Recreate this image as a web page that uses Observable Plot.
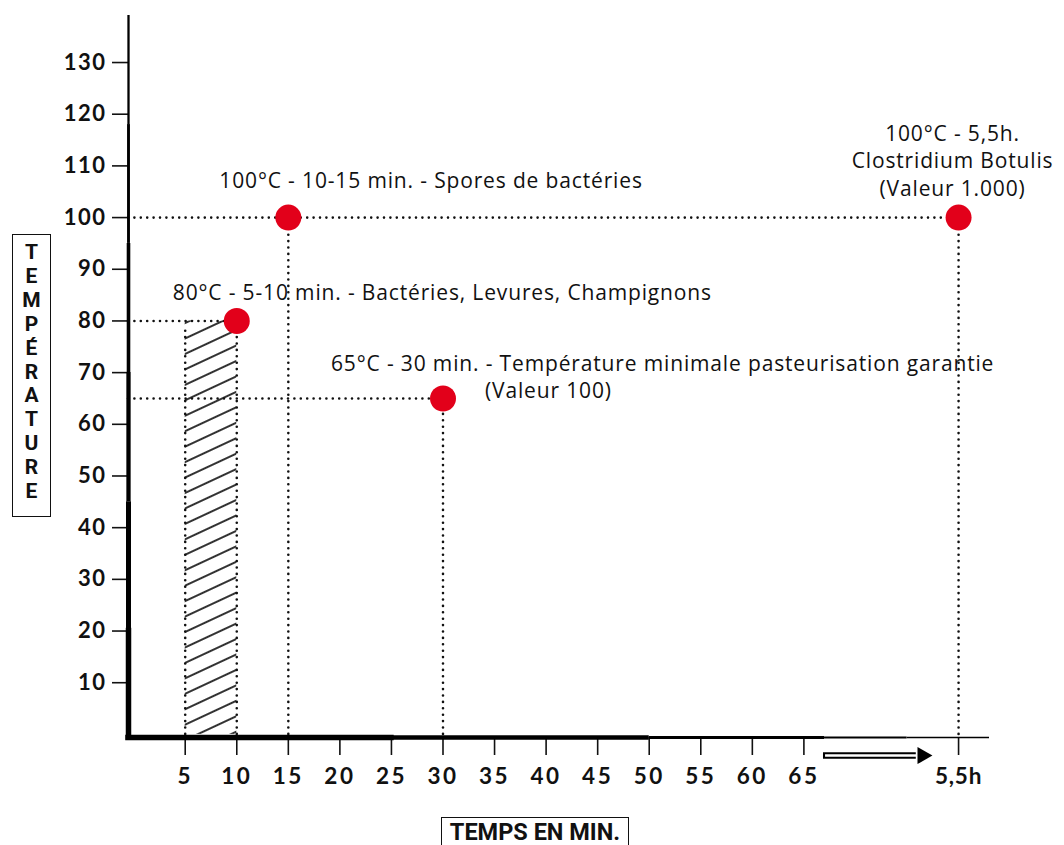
<!DOCTYPE html>
<html>
<head>
<meta charset="utf-8">
<script src="https://cdn.jsdelivr.net/npm/d3@7"></script>
<script src="https://cdn.jsdelivr.net/npm/@observablehq/plot@0.6"></script>
<style>
  html, body { margin: 0; padding: 0; background: #fff; overflow: hidden; }
  #wrap { position: relative; width: 1064px; height: 845px; }
  #ylab {
    position: absolute; left: 12px; top: 234px; width: 37px; height: 275px;
    border: 1.5px solid #111; box-sizing: content-box;
    display: flex; flex-direction: column; align-items: center;
    padding-top: 6px;
    font-family: Roboto, sans-serif; font-weight: 700; font-size: 21px; line-height: 23.9px; color: #111;
  }
  #xlab {
    position: absolute; left: 441px; top: 817px; width: 188px; height: 40px;
    border: 1.5px solid #111; box-sizing: border-box;
    font-family: Roboto, sans-serif; font-weight: 700; font-size: 23.5px; line-height: 28px; color: #111;
    text-align: center;
  }
  g[aria-label="x-axis tick label"] text { letter-spacing: 2.5px; }
  g[aria-label="x-axis tick label"] text:last-child { letter-spacing: 0.8px; }
  g[aria-label="y-axis tick label"] text { letter-spacing: 1.5px; }
  g[aria-label="text"] text { letter-spacing: 0.85px; }
</style>
</head>
<body>
<div id="wrap">
  <div id="chart"></div>
  <div id="ylab"></div>
  <div id="xlab"></div>
</div>
<script>
// ---- data ----
const yAxisTitle = "TEMPÉRATURE";
const xAxisTitle = "TEMPS EN MIN.";

const xTicks = [5, 10, 15, 20, 25, 30, 35, 40, 45, 50, 55, 60, 65, 80];
const xTickLabels = ["5", "10", "15", "20", "25", "30", "35", "40", "45", "50", "55", "60", "65", "5,5h"];
const yTicks = [10, 20, 30, 40, 50, 60, 70, 80, 90, 100, 110, 120, 130];

// points: time (minutes, 5,5h placed at the "80" slot) and temperature
const pointTime = [15, 10, 30, 80];
const pointTemp = [100, 80, 65, 100];

// hatched zone: 5-10 min at up to 80°C
const hatchTime = [5, 10];
const hatchTemp = [0, 80];

const labelSpores = "100°C - 10-15 min. - Spores de bactéries";
const labelBacteries = "80°C - 5-10 min. - Bactéries, Levures, Champignons";
const labelPasteur = "65°C - 30 min. - Température minimale pasteurisation garantie";
const labelPasteurValue = "(Valeur 100)";
const labelBotulis = ["100°C - 5,5h.", "Clostridium Botulis", "(Valeur 1.000)"];

// arrow after 65 toward 5,5h
const arrowFrom = 66.9;
const arrowTo = 75.9;

// ---- build ----
const xMin = -0.5, xMax = 83;
const yMin = -0.6, yMax = 139.1;

const points = pointTime.map((t, i) => ({x: t, y: pointTemp[i]}));
const dotted = {stroke: "#111", strokeWidth: 2.6, strokeDasharray: "0 6.4", strokeLinecap: "round"};
const annFont = {fontFamily: "'Open Sans', sans-serif", fontSize: 21, fill: "#111"};

// tapered axis line styling (stroke widths along the axis)
const yAxisTaper = [[yMin, 20, 5.5], [20, 45, 5], [45, 70, 4.3], [70, 95, 3.6], [95, 118, 2.9], [118, yMax, 2.3]];
const xAxisTaper = [[xMin, 25, 5.5], [25, 50, 4.4], [50, 67, 3.2], [67, 75, 2.2], [75, xMax, 1.5]];

const plot = Plot.plot({
  width: 1064,
  height: 845,
  marginLeft: 128,
  marginRight: 75,
  marginTop: 15,
  marginBottom: 108,
  style: {fontFamily: "Lato, sans-serif", color: "#111", background: "#fff"},
  x: {domain: [xMin, xMax]},
  y: {domain: [yMin, yMax]},
  marks: [
    // hatched zone
    Plot.rect([{x1: hatchTime[0], x2: hatchTime[1], y1: hatchTemp[0], y2: hatchTemp[1]}],
      {x1: "x1", x2: "x2", y1: "y1", y2: "y2", fill: "url(#hatch)"}),
    // dotted guides
    Plot.ruleY(points.filter(d => d.x !== 15), {y: "y", x1: xMin, x2: "x", ...dotted}),
    Plot.ruleX(points, {x: "x", y1: 0, y2: "y", ...dotted}),
    Plot.ruleX([hatchTime[0]], {y1: hatchTemp[0], y2: hatchTemp[1] - 1.5, ...dotted}),
    // axes
    Plot.axisY({ticks: yTicks, tickSize: 16, tickPadding: 6, fontSize: 22, fontWeight: 700, strokeWidth: 1.6, label: null}),
    Plot.axisX({ticks: xTicks, tickFormat: d => xTickLabels[xTicks.indexOf(d)], tickSize: 18, tickPadding: 13,
      fontSize: 22.5, fontWeight: 700, strokeWidth: 1.6, label: null}),
    // axis lines (tapered)
    ...yAxisTaper.map(([a, b, w], i) => Plot.ruleX([xMin], {y1: a, y2: b, strokeWidth: w, stroke: "#000", strokeLinecap: i === 0 ? "square" : "butt"})),
    ...xAxisTaper.map(([a, b, w], i) => Plot.ruleY([yMin], {x1: a, x2: b, strokeWidth: w, stroke: "#000", strokeLinecap: i === 0 ? "square" : "butt"})),
    // arrow
    Plot.ruleY([yMin], {x1: arrowFrom, x2: arrowTo, dy: 18, strokeWidth: 6.5, stroke: "#000"}),
    Plot.ruleY([yMin], {x1: arrowFrom + 0.2, x2: arrowTo + 0.2, dy: 18, strokeWidth: 2.4, stroke: "#fff"}),
    Plot.dot([{x: arrowTo + 0.6, y: yMin}], {x: "x", y: "y", dy: 18, symbol: "triangle", rotate: 90, r: 6.4, fill: "#000"}),
    // points
    Plot.dot(points, {x: "x", y: "y", r: 13, fill: "#e2001a"}),
    // annotations
    Plot.text([points[0]], {x: "x", y: "y", text: () => labelSpores, textAnchor: "start", dx: -69, dy: -36, ...annFont}),
    Plot.text([points[1]], {x: "x", y: "y", text: () => labelBacteries, textAnchor: "start", dx: -64, dy: -28, ...annFont}),
    Plot.text([points[2]], {x: "x", y: "y", text: () => labelPasteur, textAnchor: "start", dx: -112, dy: -34, ...annFont}),
    Plot.text([points[2]], {x: "x", y: "y", text: () => labelPasteurValue, textAnchor: "start", dx: 42, dy: -7, ...annFont}),
    Plot.text([points[3]], {x: "x", y: "y", text: () => labelBotulis.join("\n"), textAnchor: "middle", lineHeight: 1.3, dx: -6, dy: -58, ...annFont})
  ]
});

// hatch pattern
const ns = "http://www.w3.org/2000/svg";
const defs = document.createElementNS(ns, "defs");
const pat = document.createElementNS(ns, "pattern");
pat.setAttribute("id", "hatch");
pat.setAttribute("patternUnits", "userSpaceOnUse");
pat.setAttribute("width", "20");
pat.setAttribute("height", "14");
pat.setAttribute("patternTransform", "rotate(-25)");
const ln = document.createElementNS(ns, "line");
ln.setAttribute("x1", "0"); ln.setAttribute("x2", "20");
ln.setAttribute("y1", "7"); ln.setAttribute("y2", "7");
ln.setAttribute("stroke", "#000"); ln.setAttribute("stroke-width", "1.6");
pat.appendChild(ln);
defs.appendChild(pat);
plot.insertBefore(defs, plot.firstChild);

document.getElementById("chart").appendChild(plot);

const ylab = document.getElementById("ylab");
for (const ch of yAxisTitle) {
  const s = document.createElement("div");
  s.textContent = ch;
  ylab.appendChild(s);
}
document.getElementById("xlab").textContent = xAxisTitle;
</script>
</body>
</html>
